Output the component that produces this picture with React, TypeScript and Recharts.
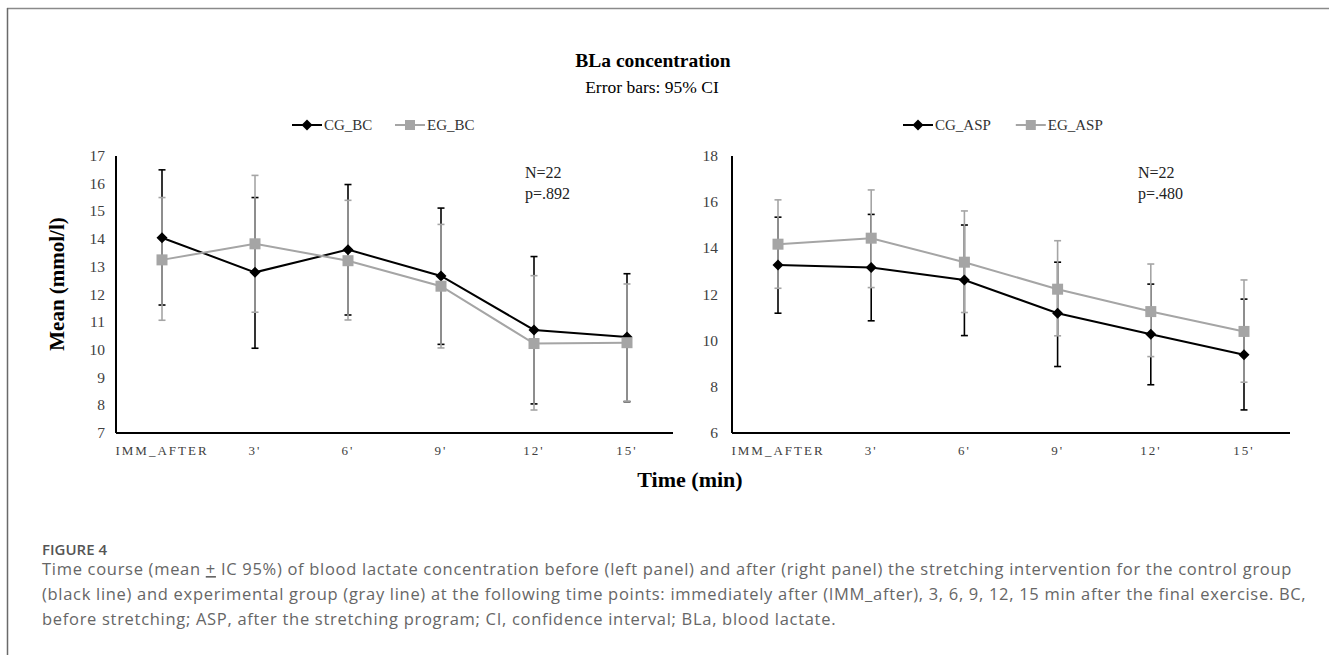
import React from 'react';
import { LineChart, Line, XAxis, YAxis, ErrorBar } from 'recharts';

const categories = ["IMM_AFTER", "3'", "6'", "9'", "12'", "15'"];

// Left panel: before stretching (BC)
const cgBcMean = [14.05, 12.8, 13.62, 12.67, 10.72, 10.47];
const cgBcLow = [11.62, 10.06, 11.26, 10.2, 8.05, 8.13];
const cgBcHigh = [16.5, 15.5, 15.97, 15.12, 13.37, 12.75];
const egBcMean = [13.25, 13.83, 13.22, 12.3, 10.23, 10.26];
const egBcLow = [11.07, 11.36, 11.08, 10.07, 7.83, 8.15];
const egBcHigh = [15.5, 16.3, 15.4, 14.53, 12.68, 12.38];

// Right panel: after stretching program (ASP)
const cgAspMean = [13.28, 13.17, 12.63, 11.19, 10.28, 9.39];
const cgAspLow = [11.19, 10.86, 10.22, 8.88, 8.09, 7.0];
const cgAspHigh = [15.35, 15.47, 15.01, 13.4, 12.45, 11.8];
const egAspMean = [14.18, 14.44, 13.4, 12.23, 11.26, 10.4];
const egAspLow = [12.27, 12.3, 11.22, 10.21, 9.31, 8.2];
const egAspHigh = [16.1, 16.53, 15.62, 14.33, 13.32, 12.63];

const leftTicks = [7, 8, 9, 10, 11, 12, 13, 14, 15, 16, 17];
const rightTicks = [6, 8, 10, 12, 14, 16, 18];

const SERIF = '"Liberation Serif", "Times New Roman", serif';
const SANS = '"Open Sans", Lato, sans-serif';
const GRAY = '#A5A5A5';

function buildRows(cgM: number[], cgL: number[], cgH: number[], egM: number[], egL: number[], egH: number[]) {
  return categories.map((c, i) => ({
    cat: c,
    cg: cgM[i],
    cgErr: [cgM[i] - cgL[i], cgH[i] - cgM[i]],
    eg: egM[i],
    egErr: [egM[i] - egL[i], egH[i] - egM[i]],
  }));
}

const leftRows = buildRows(cgBcMean, cgBcLow, cgBcHigh, egBcMean, egBcLow, egBcHigh);
const rightRows = buildRows(cgAspMean, cgAspLow, cgAspHigh, egAspMean, egAspLow, egAspHigh);

const diamondDot = (p: any) => {
  const { cx, cy, index } = p;
  if (cx == null || cy == null) return <g key={`d${index}`} />;
  const h = 5.5;
  return <path key={`d${index}`} d={`M${cx},${cy - h}L${cx + h},${cy}L${cx},${cy + h}L${cx - h},${cy}Z`} fill="#000" />;
};

const squareDot = (p: any) => {
  const { cx, cy, index } = p;
  if (cx == null || cy == null) return <g key={`s${index}`} />;
  const h = 5.5;
  return <rect key={`s${index}`} x={cx - h} y={cy - h} width={2 * h} height={2 * h} fill={GRAY} />;
};

const xTick = (p: any) => (
  <text x={p.x} y={p.y} dy={22} textAnchor="middle" fontFamily={SERIF} fontSize={13} fill="#404040" style={{ letterSpacing: '2px' }}>
    {p.payload.value}
  </text>
);

const yTick = (p: any) => (
  <text x={p.x} y={p.y} dy={5} textAnchor="end" fontFamily={SERIF} fontSize={15.5} fill="#404040">
    {p.payload.value}
  </text>
);

function Panel(props: { left: number; width: number; data: any[]; domain: [number, number]; ticks: number[]; yWidth: number; right: number; gap: number }) {
  const { left, width, data, domain, ticks, yWidth, right, gap } = props;
  return (
    <div style={{ position: 'absolute', left, top: 0 }}>
      <LineChart width={width} height={470} data={data} margin={{ top: 156, right, bottom: 7, left: 0 }}>
        <XAxis
          dataKey="cat"
          height={30}
          padding={{ left: 46, right: 46 }}
          tickLine={false}
          tickSize={0}
          tickMargin={0}
          interval={0}
          axisLine={{ stroke: '#000', strokeWidth: 2 }}
          tick={xTick}
        />
        <YAxis
          type="number"
          domain={domain}
          ticks={ticks}
          interval={0}
          width={yWidth}
          tickLine={false}
          tickSize={0}
          tickMargin={gap}
          axisLine={{ stroke: '#000', strokeWidth: 2 }}
          tick={yTick}
          allowDataOverflow
        />
        <Line dataKey="cg" stroke="#000" strokeWidth={2} dot={diamondDot} activeDot={false} isAnimationActive={false}>
          <ErrorBar dataKey="cgErr" width={3.5} stroke="#000" strokeWidth={1.6} direction="y" />
        </Line>
        <Line dataKey="eg" stroke={GRAY} strokeWidth={2} dot={squareDot} activeDot={false} isAnimationActive={false}>
          <ErrorBar dataKey="egErr" width={3.5} stroke={GRAY} strokeWidth={1.6} direction="y" />
        </Line>
      </LineChart>
    </div>
  );
}

function LegendGroup({ x, y, a, b }: { x: number; y: number; a: string; b: string }) {
  const wA = a.length * 9.8;
  const x2 = x + 32 + wA + 22;
  return (
    <g>
      <line x1={x} y1={y} x2={x + 30} y2={y} stroke="#000" strokeWidth={2} />
      <path d={`M${x + 15},${y - 5.5}L${x + 20.5},${y}L${x + 15},${y + 5.5}L${x + 9.5},${y}Z`} fill="#000" />
      <text x={x + 32} y={y + 5} fontFamily={SERIF} fontSize={15} fill="#333">{a}</text>
      <line x1={x2} y1={y} x2={x2 + 30} y2={y} stroke={GRAY} strokeWidth={2} />
      <rect x={x2 + 10} y={y - 5} width={10} height={10} fill={GRAY} />
      <text x={x2 + 32} y={y + 5} fontFamily={SERIF} fontSize={15} fill="#333">{b}</text>
    </g>
  );
}

export default function App() {
  return (
    <div style={{ position: 'absolute', left: 0, top: 0, width: 1329, height: 655, background: '#fff', overflow: 'hidden' }}>
      <Panel left={0} width={700} data={leftRows} domain={[7, 17]} ticks={leftTicks} yWidth={116} right={27} gap={11} />
      <Panel left={640} width={690} data={rightRows} domain={[6, 18]} ticks={rightTicks} yWidth={92} right={40} gap={14} />
      <svg width={1329} height={655} style={{ position: 'absolute', left: 0, top: 0, pointerEvents: 'none' }}>
        <line x1={7} y1={8.5} x2={1329} y2={8.5} stroke="#8a8a8a" strokeWidth={1.5} />
        <line x1={7.5} y1={8} x2={7.5} y2={655} stroke="#6a6a6a" strokeWidth={1.5} />
        <text x={653} y={67} textAnchor="middle" fontFamily={SERIF} fontWeight="bold" fontSize={19.5} fill="#000">BLa concentration</text>
        <text x={652} y={93} textAnchor="middle" fontFamily={SERIF} fontSize={17.5} fill="#000">Error bars: 95% CI</text>
        <LegendGroup x={292} y={125} a="CG_BC" b="EG_BC" />
        <LegendGroup x={903} y={125} a="CG_ASP" b="EG_ASP" />
        <text x={525} y={178} fontFamily={SERIF} fontSize={16} fill="#222">N=22</text>
        <text x={525} y={199} fontFamily={SERIF} fontSize={16} fill="#222">p=.892</text>
        <text x={1138} y={178} fontFamily={SERIF} fontSize={16} fill="#222">N=22</text>
        <text x={1138} y={199} fontFamily={SERIF} fontSize={16} fill="#222">p=.480</text>
        <text x={57} y={284} transform="rotate(-90 57 284)" dy={7} textAnchor="middle" fontFamily={SERIF} fontWeight="bold" fontSize={21} fill="#000">Mean (mmol/l)</text>
        <text x={690} y={487} textAnchor="middle" fontFamily={SERIF} fontWeight="bold" fontSize={22} fill="#000">Time (min)</text>
        <text x={42} y={555} fontFamily={SANS} fontWeight={600} fontSize={15} fill="#555">FIGURE 4</text>
        <text x={42} y={575} fontFamily={SANS} fontSize={16.5} fill="#666" style={{ letterSpacing: '0.7px' }}>
          Time course (mean <tspan textDecoration="underline">+</tspan> IC 95%) of blood lactate concentration before (left panel) and after (right panel) the stretching intervention for the control group
        </text>
        <text x={42} y={600} fontFamily={SANS} fontSize={16.5} fill="#666" style={{ letterSpacing: '0.7px' }}>
          (black line) and experimental group (gray line) at the following time points: immediately after (IMM_after), 3, 6, 9, 12, 15 min after the final exercise. BC,
        </text>
        <text x={42} y={624.5} fontFamily={SANS} fontSize={16.5} fill="#666" style={{ letterSpacing: '0.7px' }}>
          before stretching; ASP, after the stretching program; CI, confidence interval; BLa, blood lactate.
        </text>
      </svg>
    </div>
  );
}
